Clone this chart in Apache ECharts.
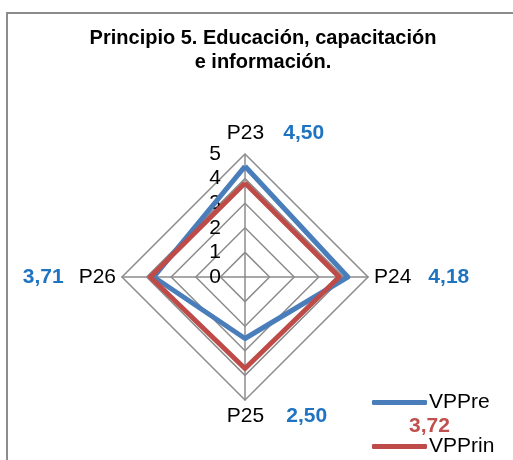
<!DOCTYPE html>
<html>
<head>
<meta charset="utf-8">
<script src="https://cdn.jsdelivr.net/npm/echarts@6/dist/echarts.min.js"></script>
<style>
  html, body { margin: 0; padding: 0; background: #fff; }
  #chart { width: 513px; height: 460px; }
  .frame {
    position: absolute; left: 6px; top: 12px; width: 600px; height: 600px;
    border-left: 2px solid #8c8c8c; border-top: 2px solid #8c8c8c;
    pointer-events: none;
  }
</style>
</head>
<body>
<div class="frame"></div>
<div id="chart"></div>
<script>
// datos del gráfico
const categories = ['P23', 'P24', 'P25', 'P26'];
const vppre = [4.50, 4.18, 2.50, 3.71];
const vpprin = [3.82, 3.83, 3.72, 3.85];
const seriesNames = ['VPPre', 'VPPrin'];
const maxValue = 5;

// el radar de echarts gira en sentido antihorario, asi que reordenamos
const order = [0, 3, 2, 1];
const pick = arr => order.map(i => arr[i]);
const fmt = v => v.toFixed(2).replace('.', ',');

const blue = '#4a7ebb';
const red = '#be4b48';
const blueText = '#1f74c2';
const redText = '#c0504d';
const font = 'Liberation Sans, Arial, sans-serif';

const myChart = echarts.init(document.getElementById('chart'));

const indicators = pick(categories).map((name, k) => {
  const ind = { name: name, max: maxValue, min: 0 };
  if (k === 0) {
    // solo el eje superior muestra las etiquetas 0..5
    ind.axisLabel = { show: true };
  }
  return ind;
});

const option = {
  animation: false,
  title: [
    {
      text: 'Principio 5. Educación, capacitación\ne información.',
      left: 258,
      top: 21,
      textAlign: 'center',
      textStyle: {
        fontFamily: font,
        fontWeight: 'bold',
        fontSize: 20,
        lineHeight: 24,
        color: '#000'
      }
    },
    {
      // etiqueta roja que queda junto a la leyenda
      text: fmt(vpprin[2]),
      left: 404,
      top: 411,
      textStyle: { fontFamily: font, fontWeight: 'bold', fontSize: 21, color: redText }
    }
  ],
  legend: {
    data: seriesNames,
    orient: 'vertical',
    left: 372,
    top: 392,
    padding: 0,
    itemGap: 23,
    itemWidth: 55,
    itemHeight: 5,
    icon: 'roundRect',
    textStyle: { fontFamily: font, fontSize: 21, lineHeight: 20, color: '#000', padding: [0, 0, 0, -3] }
  },
  radar: {
    center: [245, 277],
    radius: 123,
    startAngle: 90,
    shape: 'polygon',
    splitNumber: 5,
    indicator: indicators,
    nameGap: 6,
    axisName: {
      color: '#000',
      fontFamily: font,
      fontSize: 21,
      formatter: function (name) {
        const v = fmt(vppre[categories.indexOf(name)]);
        if (name === 'P23') return '{pad|}' + name + '{gap|}{v|' + v + '}';
        if (name === 'P25') return '{pad2|}' + name + '{gap2|}{v|' + v + '}';
        if (name === 'P24') return name + '{gap|}{v|' + v + '}';
        return '{v|' + v + '}{gap3|}' + name;
      },
      rich: {
        pad: { width: 63 },
        pad2: { width: 66 },
        gap: { width: 17 },
        gap2: { width: 20 },
        gap3: { width: 15 },
        v: { width: 45, color: blueText, fontWeight: 'bold', fontSize: 21, fontFamily: font }
      }
    },
    axisLabel: {
      show: false,
      color: '#000',
      fontFamily: font,
      fontSize: 21,
      margin: 24
    },
    axisLine: { lineStyle: { color: '#8c8c8c', width: 1.5 } },
    splitLine: { lineStyle: { color: '#8c8c8c', width: 1.5 } },
    splitArea: { show: false }
  },
  series: [
    {
      type: 'radar',
      symbol: 'none',
      data: [
        { name: seriesNames[0], value: pick(vppre), lineStyle: { color: blue, width: 5 }, itemStyle: { color: blue } },
        { name: seriesNames[1], value: pick(vpprin), lineStyle: { color: red, width: 5 }, itemStyle: { color: red } }
      ]
    }
  ]
};

myChart.setOption(option);
window.onresize = myChart.resize;
</script>
</body>
</html>
